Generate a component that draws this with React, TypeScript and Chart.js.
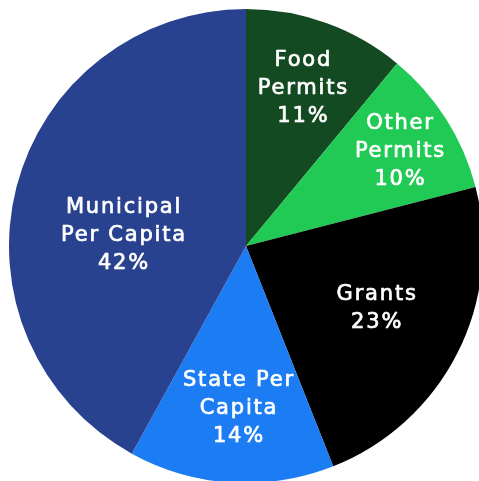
import React, { useEffect, useRef } from "react";
import { Chart, registerables } from "chart.js";

Chart.register(...registerables);

const categories = ["Food Permits", "Other Permits", "Grants", "State Per Capita", "Municipal Per Capita"];
const labelLines = [["Food", "Permits"], ["Other", "Permits"], ["Grants"], ["State Per", "Capita"], ["Municipal", "Per Capita"]];
const shares = [11, 10, 23, 14, 42];
const colors = ["#144a22", "#21ca55", "#000000", "#1b7cf3", "#284290"];
// label placement: angle (deg clockwise from top) and fraction of radius
const labelAngles = [19.9, 58.3, 115.3, 182.5, 275.2];
const labelRadii = [0.711, 0.766, 0.612, 0.684, 0.517];

const labelPlugin = {
  id: "sliceLabels",
  afterDatasetsDraw(chart: any) {
    const ctx = chart.ctx;
    const meta = chart.getDatasetMeta(0);
    ctx.save();
    ctx.fillStyle = "#ffffff";
    ctx.strokeStyle = "#ffffff";
    ctx.lineWidth = 0.7;
    ctx.lineJoin = "round";
    ctx.font = "21px 'DejaVu Sans'";
    (ctx as any).letterSpacing = "1.8px";
    ctx.textAlign = "center";
    ctx.textBaseline = "middle";
    const lh = 28;
    meta.data.forEach((arc: any, i: number) => {
      const a = (labelAngles[i] * Math.PI) / 180;
      const r = arc.outerRadius * labelRadii[i];
      const cx = arc.x + r * Math.sin(a);
      const cy = arc.y - r * Math.cos(a);
      const lines = [...labelLines[i], shares[i] + "%"];
      const y0 = cy - ((lines.length - 1) * lh) / 2;
      lines.forEach((t, k) => {
        ctx.fillText(t, cx, y0 + k * lh + 1);
        ctx.strokeText(t, cx, y0 + k * lh + 1);
      });
    });
    ctx.restore();
  },
};

export default function App() {
  const ref = useRef<HTMLCanvasElement>(null);
  useEffect(() => {
    const chart = new Chart(ref.current!, {
      type: "pie",
      data: {
        labels: categories,
        datasets: [
          {
            data: shares,
            backgroundColor: colors,
            borderWidth: 0,
            hoverOffset: 0,
            offset: 0,
          },
        ],
      },
      options: {
        animation: false,
        responsive: false,
        layout: { padding: 0 },
        plugins: { legend: { display: false }, tooltip: { enabled: false } },
      },
      plugins: [labelPlugin],
    });
    return () => chart.destroy();
  }, []);
  return (
    <div style={{ position: "fixed", left: 0, top: 0, width: 479, height: 481, overflow: "hidden", background: "#fff" }}>
      <canvas ref={ref} width={474} height={474} style={{ position: "absolute", left: 9, top: 9, width: 474, height: 474 }} />
    </div>
  );
}
